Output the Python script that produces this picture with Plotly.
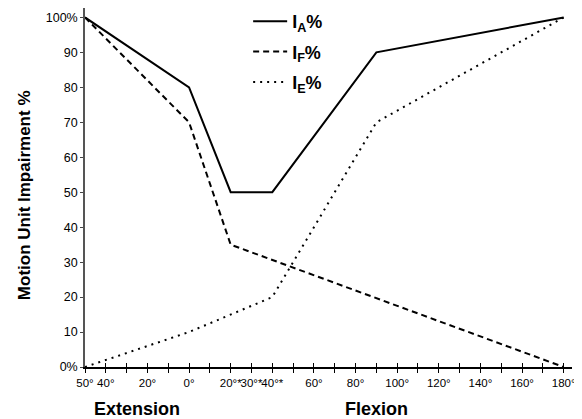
import plotly.graph_objects as go

# joint angle: negative = extension, positive = flexion (degrees)
ia_angle = [-50, 0, 20, 40, 90, 180]
ia_pct = [100, 80, 50, 50, 90, 100]

if_angle = [-50, 0, 20, 180]
if_pct = [100, 70, 35, 0]

ie_angle = [-50, 0, 40, 90, 180]
ie_pct = [0, 10, 20, 70, 100]

tick_vals = list(range(-50, 181, 10))
tick_text = {-50: "50°", -40: "40°", -20: "20°", 0: "0°", 20: "20°*", 30: "30°*", 40: "40°*",
             60: "60°", 80: "80°", 100: "100°", 120: "120°", 140: "140°", 160: "160°", 180: "180°"}
y_vals = list(range(0, 101, 10))
y_text = ["0%"] + [str(v) for v in range(10, 100, 10)] + ["100%"]

font = "Liberation Sans, Arial, sans-serif"

fig = go.Figure()
fig.add_trace(go.Scatter(x=ia_angle, y=ia_pct, mode="lines", name="<b>I<sub>A</sub>%</b>",
                         line=dict(color="black", width=2), legendgroup="a"))
fig.add_trace(go.Scatter(x=if_angle, y=if_pct, mode="lines", name="<b>I<sub>F</sub>%</b>",
                         line=dict(color="black", width=2, dash="6px,4px"), legendgroup="f"))
fig.add_trace(go.Scatter(x=ie_angle, y=ie_pct, mode="lines", name="<b>I<sub>E</sub>%</b>",
                         line=dict(color="black", width=2, dash="2px,5px"), legendgroup="e"))
# dummy trace so the overlay axis (inner half of the crossing ticks) is drawn
fig.add_trace(go.Scatter(x=[None], y=[None], xaxis="x2", showlegend=False, hoverinfo="skip"))

# page has an 8px body margin, so the figure is 8px smaller than the window
fig.update_layout(
    width=574, height=411,
    margin=dict(l=77, r=10, t=0, b=52, autoexpand=False),
    plot_bgcolor="white", paper_bgcolor="white",
    font=dict(family=font, size=12, color="black"),
    showlegend=True,
    legend=dict(x=0.335, y=1.014, xanchor="left", yanchor="top", bgcolor="rgba(0,0,0,0)",
                font=dict(size=18), itemwidth=34, tracegroupgap=4),
    xaxis=dict(range=[-50, 184], tickvals=tick_vals,
               ticktext=[tick_text.get(v, "") for v in tick_vals], tickangle=0,
               ticks="outside", ticklen=4, tickcolor="black", tickwidth=1,
               showline=True, linecolor="black", linewidth=1.5,
               showgrid=False, zeroline=False, tickfont=dict(size=11.5)),
    xaxis2=dict(range=[-50, 184], overlaying="x", anchor="y", side="bottom",
                tickvals=tick_vals, ticks="inside", ticklen=4, tickcolor="black",
                tickwidth=1, showticklabels=False, showline=False, showgrid=False,
                zeroline=False),
    yaxis=dict(range=[0, 102.7], tickvals=y_vals, ticktext=y_text,
               ticks="outside", ticklen=3, tickcolor="#444", tickwidth=1,
               showline=True, linecolor="#555", linewidth=1.5,
               showgrid=False, zeroline=False, tickfont=dict(size=12.5)),
)

fig.add_annotation(text="<b>Motion Unit Impairment %</b>", textangle=-90,
                   xref="paper", yref="paper", x=-0.125, y=0.479, xanchor="center",
                   yanchor="middle", showarrow=False, font=dict(size=17))
fig.add_annotation(text="<b>Extension</b>", xref="x", yref="paper", x=-25, y=-0.118,
                   yanchor="middle", showarrow=False, font=dict(size=18))
fig.add_annotation(text="<b>Flexion</b>", xref="x", yref="paper", x=90, y=-0.118,
                   yanchor="middle", showarrow=False, font=dict(size=18))

fig.write_html("out.html")
